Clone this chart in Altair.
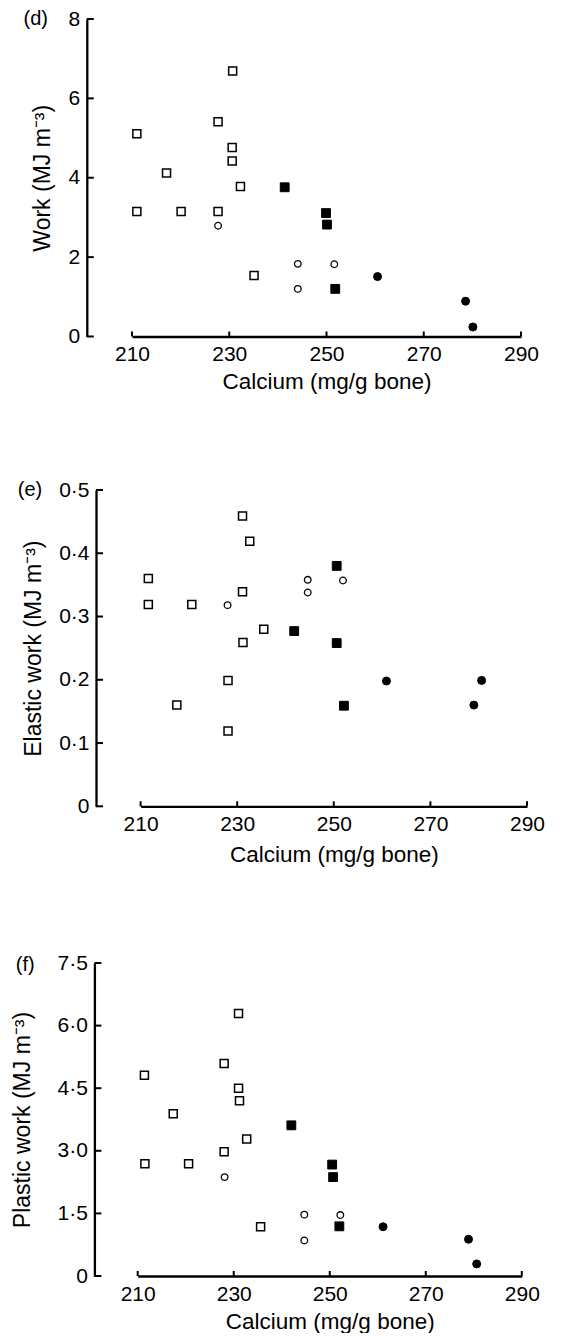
import altair as alt
import pandas as pd

# ---------------- data ----------------
groups = ["open square", "open circle", "filled square", "filled circle"]

# Panel (d): Work (MJ m-3)
d_calcium = {
    "open square": [211.0, 211.0, 217.1, 220.1, 227.7, 227.7, 230.7, 230.6, 230.6, 232.3, 235.1],
    "open circle": [227.7, 244.1, 244.1, 251.6],
    "filled square": [241.4, 249.9, 250.1, 251.8],
    "filled circle": [260.5, 278.6, 280.1],
}
d_value = {
    "open square": [5.11, 3.15, 4.12, 3.15, 5.41, 3.15, 6.69, 4.76, 4.42, 3.78, 1.54],
    "open circle": [2.79, 1.83, 1.20, 1.82],
    "filled square": [3.76, 3.11, 2.82, 1.20],
    "filled circle": [1.51, 0.89, 0.24],
}

# Panel (e): Elastic work (MJ m-3)
e_calcium = {
    "open square": [211.6, 211.6, 217.5, 220.6, 228.1, 228.1, 231.1, 231.1, 231.2, 232.6, 235.5],
    "open circle": [228.0, 244.6, 244.6, 251.9],
    "filled square": [241.8, 250.6, 250.6, 252.1],
    "filled circle": [260.9, 279.0, 280.6],
}
e_value = {
    "open square": [0.360, 0.319, 0.160, 0.319, 0.199, 0.119, 0.459, 0.339, 0.259, 0.419, 0.280],
    "open circle": [0.318, 0.358, 0.338, 0.357],
    "filled square": [0.277, 0.380, 0.258, 0.159],
    "filled circle": [0.198, 0.160, 0.199],
}

# Panel (f): Plastic work (MJ m-3)
f_calcium = {
    "open square": [211.4, 211.5, 217.4, 220.6, 228.0, 228.0, 231.0, 231.0, 231.2, 232.7, 235.6],
    "open circle": [228.1, 244.7, 244.7, 252.2],
    "filled square": [242.0, 250.5, 250.7, 252.0],
    "filled circle": [261.1, 278.9, 280.6],
}
f_value = {
    "open square": [4.81, 2.69, 3.89, 2.69, 5.09, 2.98, 6.29, 4.50, 4.20, 3.28, 1.18],
    "open circle": [2.37, 1.47, 0.85, 1.46],
    "filled square": [3.61, 2.67, 2.37, 1.19],
    "filled circle": [1.18, 0.88, 0.29],
}

x_ticks = [210, 230, 250, 270, 290]
d_ticks = [0, 2, 4, 6, 8]
e_ticks = [0, 0.1, 0.2, 0.3, 0.4, 0.5]
f_ticks = [0, 1.5, 3.0, 4.5, 6.0, 7.5]

FONT = "Liberation Sans"
X0 = 92.3   # page x of the common plot-area left edge
W = 431


def make_df(cal, val):
    rows = []
    for g in groups:
        for c, v in zip(cal[g], val[g]):
            rows.append({"calcium": c, "value": v, "group": g})
    return pd.DataFrame(rows)


def panel(cal, val, ydom, yticks, ytitle, label, h, xrange, yoff, label_dx,
          label_dy, title_pad, xtitle_pad, decimal):
    df = make_df(cal, val)
    if decimal:
        lab_expr = "datum.value == 0 ? '0' : replace(format(datum.value, '.1f'), '.', '\u00b7')"
    else:
        lab_expr = "format(datum.value, 'd')"
    xenc = alt.X(
        "calcium:Q",
        scale=alt.Scale(domain=[210, 290], range=xrange, nice=False, zero=False),
        axis=alt.Axis(values=x_ticks, title="Calcium (mg/g bone)", ticks=False,
                      labelPadding=7, titlePadding=xtitle_pad, format="d",
                      labelFlush=False, titleFontSize=22.5),
    )
    yenc = alt.Y(
        "value:Q",
        scale=alt.Scale(domain=ydom, nice=False, zero=True),
        axis=alt.Axis(values=yticks, title=ytitle, offset=yoff, ticks=False,
                      labelExpr=lab_expr, labelPadding=7, titlePadding=title_pad,
                      labelFlush=False, titleFontSize=23),
    )
    base = alt.Chart(df)
    open_sq = base.transform_filter(alt.datum.group == "open square").mark_square(
        size=64, fill="white", stroke="black", strokeWidth=1.5, opacity=1
    ).encode(x=xenc, y=yenc)
    open_ci = base.transform_filter(alt.datum.group == "open circle").mark_circle(
        size=44, fill="white", stroke="black", strokeWidth=1.3, opacity=1
    ).encode(x=xenc, y=yenc)
    fill_sq = base.transform_filter(alt.datum.group == "filled square").mark_square(
        size=78, fill="black", stroke="black", strokeWidth=1, opacity=1
    ).encode(x=xenc, y=yenc)
    fill_ci = base.transform_filter(alt.datum.group == "filled circle").mark_circle(
        size=64, fill="black", stroke="black", strokeWidth=1, opacity=1
    ).encode(x=xenc, y=yenc)

    # inward tick marks
    xt = alt.Chart(pd.DataFrame({"calcium": x_ticks})).mark_rule(
        color="black", strokeWidth=2
    ).encode(
        x=xenc,
        y=alt.value(h), y2=alt.value(h - 5),
    )
    yt = alt.Chart(pd.DataFrame({"value": yticks})).mark_rule(
        color="black", strokeWidth=2
    ).encode(
        y=yenc,
        x=alt.value(-yoff), x2=alt.value(-yoff + 7),
    )
    lab = alt.Chart(pd.DataFrame({"t": [label]})).mark_text(
        font=FONT, fontSize=20, align="center", baseline="middle", color="black"
    ).encode(text="t:N", x=alt.value(label_dx), y=alt.value(label_dy))

    return alt.layer(open_sq, open_ci, fill_sq, fill_ci, xt, yt, lab).properties(
        width=W, height=h
    )


pd_ = panel(d_calcium, d_value, [0, 8], d_ticks, "Work (MJ m\u207b\u00b3)", "(d)",
            317.5, [128.3 - X0, 517.3 - X0], X0 - 83.1, 32 - X0, 0, 13.5, 6, False)
pe_ = panel(e_calcium, e_value, [0, 0.5], e_ticks, "Elastic work (MJ m\u207b\u00b3)", "(e)",
            316.3, [136.9 - X0, 523.3 - X0], 0, 26.3 - X0, 0, 13.5, 9, True)
pf_ = panel(f_calcium, f_value, [0, 7.5], f_ticks, "Plastic work (MJ m\u207b\u00b3)", "(f)",
            313, [134 - X0, 518.1 - X0], X0 - 90.7, 21.5 - X0, 2, 23, 6, True)

chart = alt.vconcat(pd_, pe_, pf_, spacing=86).properties(
    padding={"left": 3, "top": 0, "right": 0, "bottom": 0}
).configure_view(stroke=None).configure_axis(
    labelFont=FONT, titleFont=FONT, labelFontSize=21, titleFontSize=23,
    titleFontWeight="normal", labelColor="black", titleColor="black",
    domainColor="black", domainWidth=2.3, grid=False,
)

chart.save("out.html", embed_options={"renderer": "svg", "actions": False})
